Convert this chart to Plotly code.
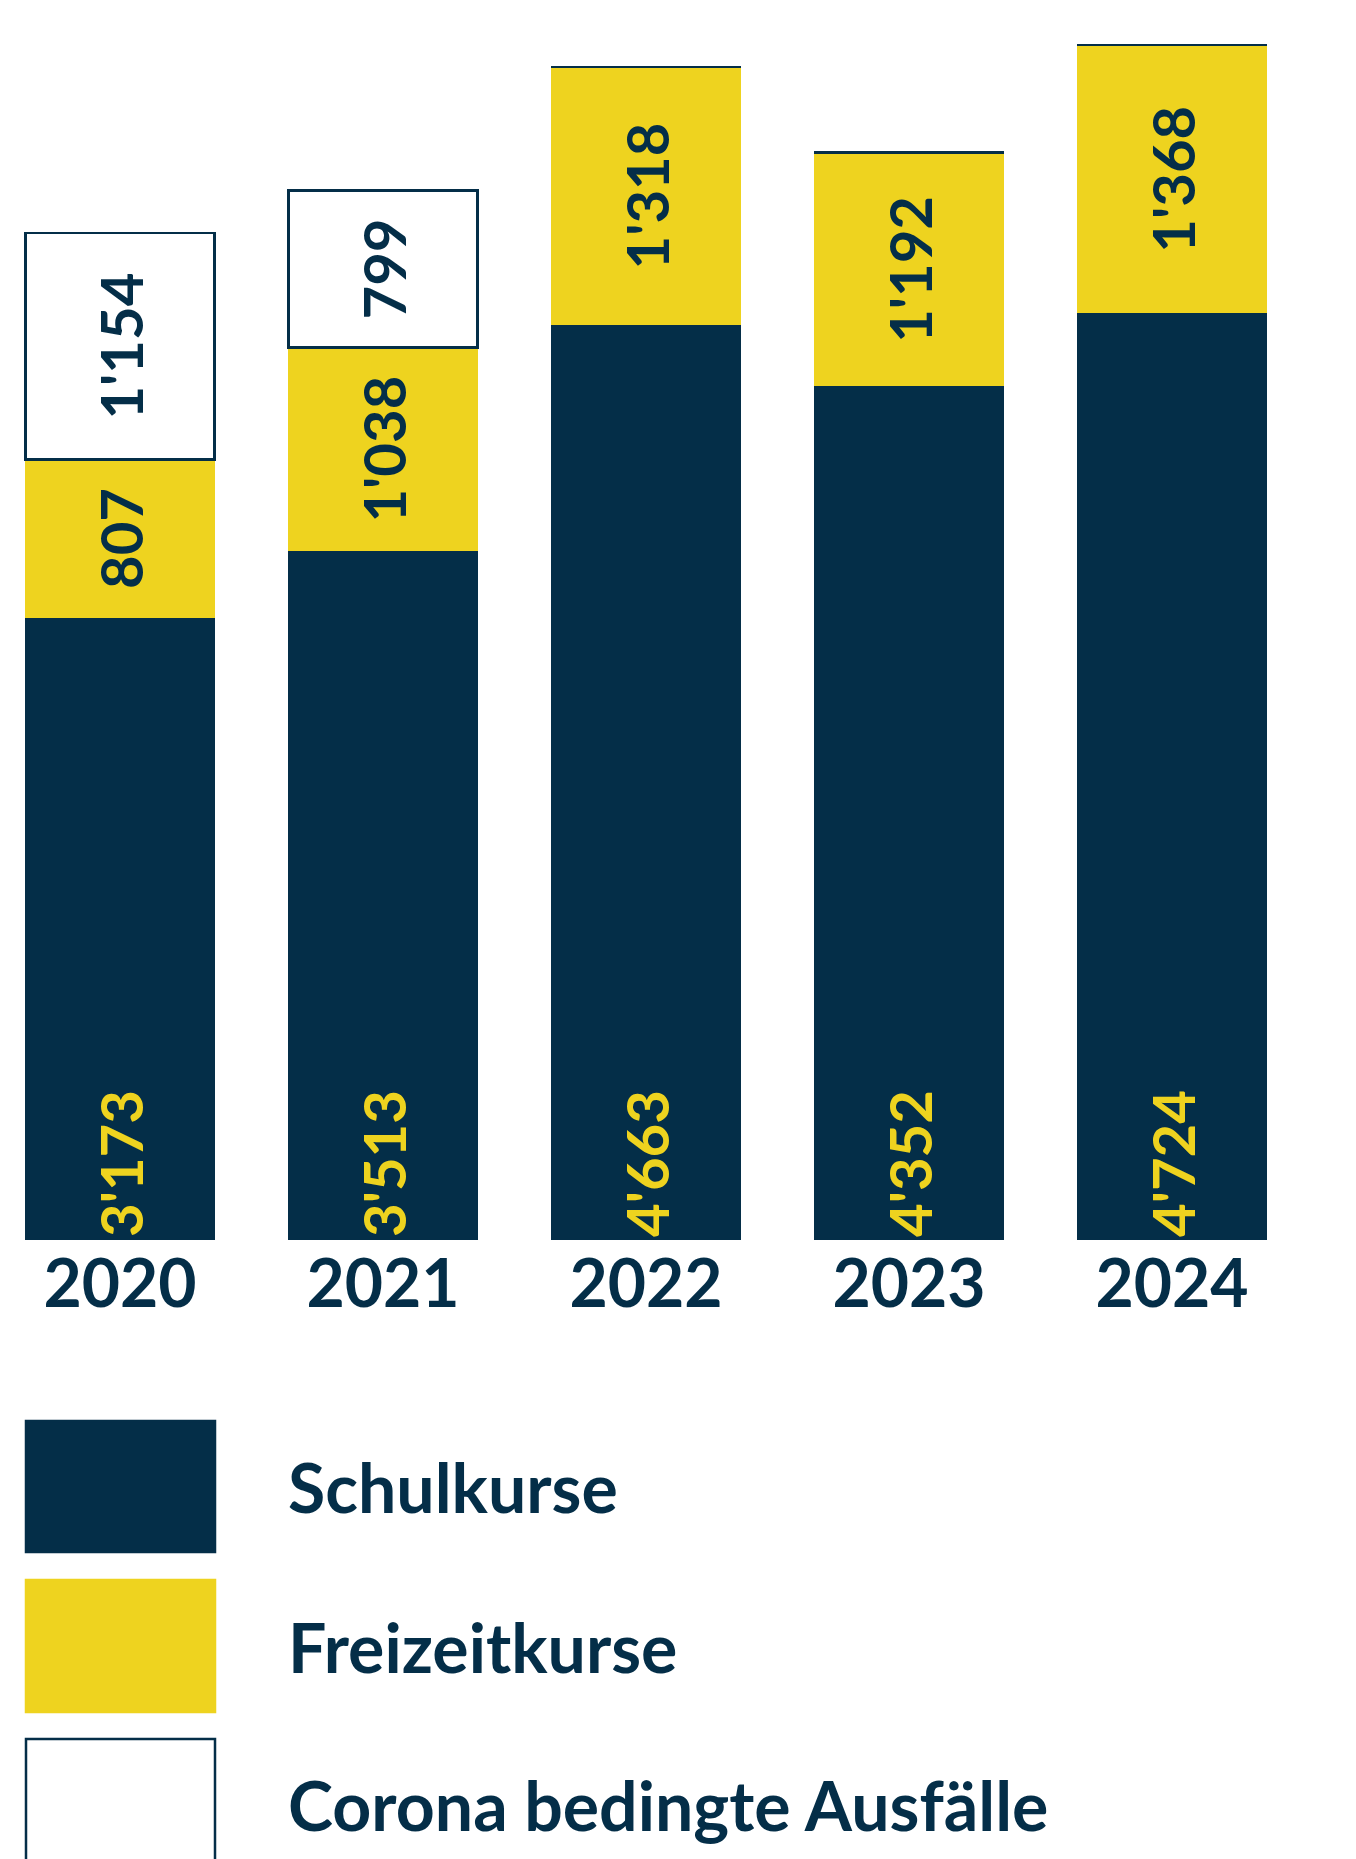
import plotly.graph_objects as go

years = ["2020", "2021", "2022", "2023", "2024"]
schul = [3173, 3513, 4663, 4352, 4724]
freizeit = [807, 1038, 1318, 1192, 1368]
corona = [1154, 799, 0, 0, 0]
schul_lbl = ["3'173", "3'513", "4'663", "4'352", "4'724"]
frei_lbl = ["807", "1'038", "1'318", "1'192", "1'368"]
corona_lbl = ["1'154", "799", "", "", ""]
legend_names = ["Schulkurse", "Freizeitkurse", "Corona bedingte Ausfälle"]

NAVY = "#042e48"
YEL = "#eed31f"
FONT = "Lato"

fig = go.Figure()
common = dict(x=years, width=0.72, textposition="inside", textangle=-90,
              constraintext="none", cliponaxis=False)
fig.add_bar(y=schul, text=schul_lbl, marker=dict(color=NAVY, line=dict(width=0)),
            insidetextanchor="start", textfont=dict(color=YEL, size=58, family=FONT, weight="bold"), **common)
fig.add_bar(y=freizeit, text=frei_lbl, marker=dict(color=YEL, line=dict(width=0)),
            insidetextanchor="middle", textfont=dict(color=NAVY, size=58, family=FONT, weight="bold"), **common)
fig.add_bar(y=corona, text=corona_lbl, marker=dict(color="white", line=dict(width=2.5, color=NAVY)),
            insidetextanchor="middle", textfont=dict(color=NAVY, size=58, family=FONT, weight="bold"), **common)

H = 1232
def py(p):
    return (H - p) / H

colors = [(NAVY, NAVY), (YEL, YEL), ("white", NAVY)]
boxes = [(1413, 1544), (1572, 1704), (1731, 1862)]
shapes, anns = [], []
for (fc, lc), (y0, y1), name in zip(colors, boxes, legend_names):
    shapes.append(dict(type="rect", xref="paper", yref="paper", x0=18/1356, x1=207/1356,
                       y0=py(y1), y1=py(y0), fillcolor=fc, line=dict(color=lc, width=2.5)))
    anns.append(dict(text=name, xref="paper", yref="paper", x=278/1356, y=py((y0+y1)/2),
                     xanchor="left", yanchor="middle", showarrow=False,
                     font=dict(size=68, color=NAVY, family=FONT, weight="bold")))

fig.update_layout(
    barmode="stack", width=1356, height=1859, showlegend=False,
    paper_bgcolor="white", plot_bgcolor="white",
    margin=dict(l=0, r=0, t=0, b=1859 - H),
    xaxis=dict(range=[-0.426, 4.73], showgrid=False, showline=False, ticks="",
               tickfont=dict(size=66, color=NAVY, family=FONT, weight="bold")),
    yaxis=dict(range=[0, 6281], visible=False),
    shapes=shapes, annotations=anns,
)
fig.write_html("out.html")
